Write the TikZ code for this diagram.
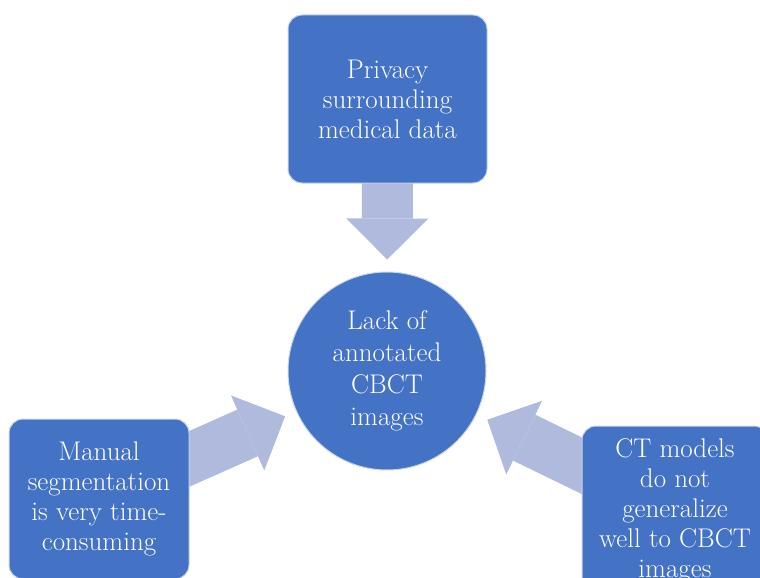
\documentclass[tikz,border=0pt]{standalone}
\usetikzlibrary{arrows.meta,backgrounds}
\definecolor{boxblue}{RGB}{68,114,196}
\definecolor{arrowblue}{RGB}{175,186,221}
\begin{document}
\begin{tikzpicture}[x=1pt,y=-1pt,
  box/.style={rectangle, rounded corners=14pt, fill=boxblue, draw=white!70!boxblue, line width=1pt,
    text=white, align=center, font=\fontsize{27}{30}\selectfont, inner sep=0pt},
  hub/.style={circle, fill=boxblue, draw=white!70!boxblue, line width=1pt, minimum size=198pt,
    text=white, align=center, font=\fontsize{27}{32}\selectfont, inner sep=0pt},
  blockarrow/.style={draw=arrowblue, line width=51pt,
    -{Triangle[width=82pt,length=41pt,line width=0pt]}, shorten >=12pt}]
\useasboundingbox (0,0) rectangle (760,578);
\clip (0,0) rectangle (760,578);
\node[hub] (c) at (387,371) {Lack of\\annotated\\CBCT\\images};
\node[box, minimum width=199pt, minimum height=168pt] (top) at (387.5,99) {Privacy\\surrounding\\medical data};
\node[box, minimum width=180pt, minimum height=160pt] (left) at (99,499) {Manual\\segmentation\\is very time-\\consuming};
\node[box, minimum width=186pt, minimum height=170pt] (right) at (675,511) {CT models\\do not\\generalize\\well to CBCT\\images};
\begin{pgfonlayer}{background}
\draw[blockarrow] (top.center) -- (c);
\draw[blockarrow] (left.center) -- (c);
\draw[blockarrow] (right.center) -- (c);
\end{pgfonlayer}
\end{tikzpicture}
\end{document}
